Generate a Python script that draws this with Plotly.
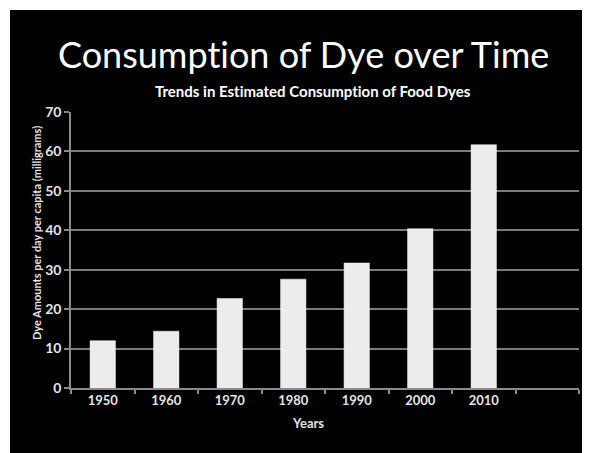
import plotly.graph_objects as go

years = ["1950", "1960", "1970", "1980", "1990", "2000", "2010"]
dye_mg = [12.0, 14.4, 22.7, 27.6, 31.7, 40.4, 61.7]
y_ticks = [0, 10, 20, 30, 40, 50, 60, 70]

ZWNJ = "\u200c"  # stops the font from fusing "ti" into a ligature
title_text = "Consumpt" + ZWNJ + "ion of Dye over Time"
subtitle_text = ("Trends in Est" + ZWNJ + "imated Consumpt" + ZWNJ + "ion of Food Dyes")

W, H = 590, 453
OFF = 8  # page body margin offset
L, R, T, B = 71 - OFF, 579 - OFF, 112 - OFF, 388 - OFF
PW, PH = R - L, B - T


def fx(px):
    return (px - OFF - L) / PW


def fy(py):
    return (B - (py - OFF)) / PH


FONT = "Lato"
fig = go.Figure()
fig.add_trace(go.Bar(
    x=list(range(len(years))), y=dye_mg, width=0.4,
    marker=dict(color="#ececec", line=dict(color="#f6f6f6", width=0.5)),
    hoverinfo="x+y",
))

fig.update_layout(
    width=W, height=H,
    margin=dict(l=L, r=W - R, t=T, b=H - B, pad=0),
    paper_bgcolor="black", plot_bgcolor="black",
    showlegend=False,
    bargap=0.6,
    xaxis=dict(
        range=[-0.5, 7.5], tickmode="array", tickvals=list(range(len(years))),
        ticktext=years, ticks="", showgrid=False, zeroline=False,
        showline=True, linecolor="#8a8a8a", linewidth=1.5,
        tickfont=dict(family=FONT, size=13, color="#e4e4e4", weight="bold"),
        minor=dict(tick0=-0.5, dtick=1, ticks="outside", ticklen=4,
                   tickcolor="#8a8a8a", tickwidth=1.5, showgrid=False),
        fixedrange=True,
    ),
    yaxis=dict(
        range=[0, 70], tickmode="array", tickvals=y_ticks,
        ticks="outside", ticklen=5, tickcolor="#8a8a8a", tickwidth=1.5,
        showgrid=True, gridcolor="#7a7a7a", gridwidth=1.5, zeroline=False,
        showline=True, linecolor="#8a8a8a", linewidth=1.5,
        tickfont=dict(family=FONT, size=14, color="#e4e4e4", weight="bold"),
        fixedrange=True,
    ),
    shapes=[
        dict(type="rect", xref="paper", yref="paper",
             x0=fx(-20), x1=fx(10), y0=fy(H + 20), y1=fy(-20),
             fillcolor="white", line=dict(width=0), layer="below"),
        dict(type="rect", xref="paper", yref="paper",
             x0=fx(-20), x1=fx(W + 20), y0=fy(10), y1=fy(-20),
             fillcolor="white", line=dict(width=0), layer="below"),
    ],
    annotations=[
        dict(text=title_text, xref="paper", yref="paper",
             x=fx(303), y=fy(54), xanchor="center", yanchor="middle",
             showarrow=False, font=dict(family=FONT, size=36, color="white")),
        dict(text=subtitle_text, xref="paper", yref="paper",
             x=fx(313), y=fy(91), xanchor="center", yanchor="middle",
             showarrow=False, font=dict(family=FONT, size=15, color="white", weight="bold")),
        dict(text="Dye Amounts per day per capita (milligrams)", xref="paper", yref="paper",
             x=fx(36), y=fy(233), xanchor="center", yanchor="middle", textangle=-90,
             showarrow=False, font=dict(family=FONT, size=11, color="#e4e4e4", weight="bold")),
        dict(text="Years", xref="paper", yref="paper",
             x=fx(308), y=fy(423), xanchor="center", yanchor="middle",
             showarrow=False, font=dict(family=FONT, size=13, color="#e4e4e4", weight="bold")),
    ],
)

fig.write_html("out.html", config={"displayModeBar": False})
